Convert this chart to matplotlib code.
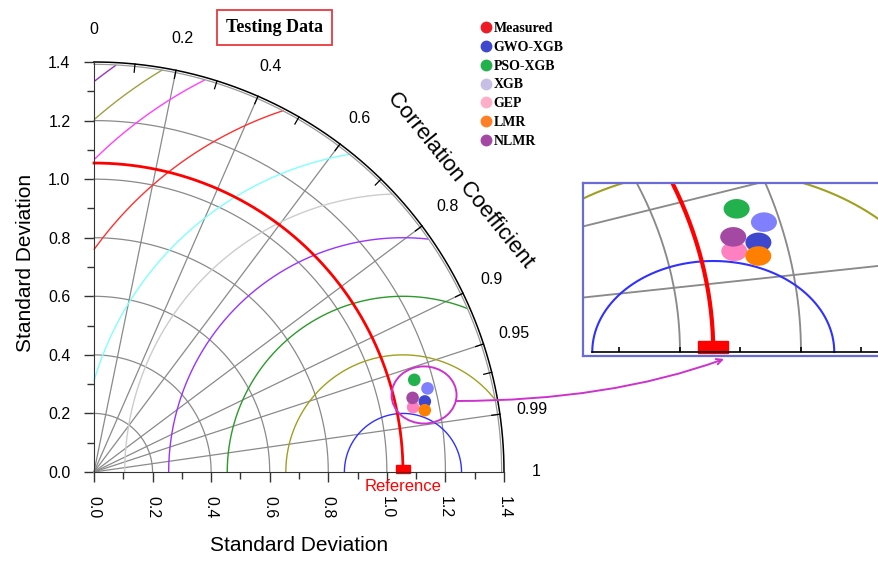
import numpy as np
import matplotlib
matplotlib.use("Agg")
import matplotlib.pyplot as plt
from matplotlib.patches import Ellipse, Rectangle
from matplotlib.lines import Line2D

plt.rcParams['font.family'] = ['Liberation Sans', 'DejaVu Sans']

# model statistics (testing data)
models = ['GWO-XGB', 'PSO-XGB', 'XGB', 'GEP', 'LMR', 'NLMR']
std_dev = [1.155, 1.138, 1.174, 1.112, 1.149, 1.117]
corr = [0.978, 0.961, 0.970, 0.980, 0.983, 0.974]
point_colors = ['#3f48cc', '#22b14c', '#8080ff', '#ff80c0', '#ff8000', '#a349a4']

legend_labels = ['Measured', 'GWO-XGB', 'PSO-XGB', 'XGB', 'GEP', 'LMR', 'NLMR']
legend_colors = ['#ed1c24', '#3f48cc', '#22b14c', '#c8bfe7', '#ffaec9', '#ff7f27', '#a349a4']

ref_std = 1.055

# centred RMS difference contours
rms_levels = [0.2, 0.4, 0.6, 0.8, 0.95, 1.1, 1.3, 1.5, 1.6, 1.7]
rms_colors = ['#3030ff', '#a0a020', '#2a9a2a', '#9933ff', '#cccccc',
              '#80ffff', '#ff3030', '#ff40ff', '#a0a040', '#9933bb']

std_arcs = [0.2, 0.4, 0.6, 0.8, 1.0, 1.2]
corr_lines = [0.2, 0.4, 0.6, 0.8, 0.9, 0.95, 0.99]
corr_ticks = [0.1, 0.2, 0.3, 0.4, 0.5, 0.6, 0.7, 0.8, 0.9, 0.95, 0.97, 0.99]
corr_labels = [0, 0.2, 0.4, 0.6, 0.8, 0.9, 0.95, 0.99, 1]

xs = np.array(std_dev) * np.array(corr)
ys = np.array(std_dev) * np.sin(np.arccos(corr))
t = np.linspace(0, np.pi / 2, 300)
R_MAX = 1.4


def rms_curve(r, limit=1.393):
    th = np.linspace(0, np.pi, 800)
    cx = ref_std + r * np.cos(th)
    cy = r * np.sin(th)
    bad = (cx < 0) | (cx ** 2 + cy ** 2 > limit ** 2)
    cx[bad] = np.nan
    cy[bad] = np.nan
    return cx, cy


def draw_base(a, lw_scale=1.0, ref_lw=2.0):
    for s in std_arcs:
        a.plot(s * np.cos(t), s * np.sin(t), color='#8a8a8a', lw=0.9 * lw_scale)
    for c in corr_lines:
        ang = np.arccos(c)
        a.plot([0, R_MAX * np.cos(ang)], [0, R_MAX * np.sin(ang)],
               color='#8a8a8a', lw=0.9 * lw_scale)
    for r, col in zip(rms_levels, rms_colors):
        cx, cy = rms_curve(r)
        a.plot(cx, cy, color=col, lw=1.0 * lw_scale)
    a.plot(ref_std * np.cos(t), ref_std * np.sin(t), color='red', lw=ref_lw)
    a.add_patch(Rectangle((ref_std - 0.025, -0.003), 0.05, 0.028,
                          color='red', clip_on=a.get_label() == 'inset'))
    for x, y, col in zip(xs, ys, point_colors):
        a.add_patch(Ellipse((x, y), 0.043, 0.043, color=col, ec='none', zorder=5))


fig = plt.figure(figsize=(8.79, 5.61), dpi=100)
ax = fig.add_axes([94 / 879, 89 / 561, 410 / 879, 410 / 561])
ax.set_xlim(0, 1.4)
ax.set_ylim(0, 1.4)
draw_base(ax)

# outer boundary
ax.plot(1.392 * np.cos(t), 1.392 * np.sin(t), color='#999999', lw=0.9, clip_on=False)
ax.plot(R_MAX * np.cos(t), R_MAX * np.sin(t), color='black', lw=1.1, clip_on=False)
for c in corr_ticks:
    ang = np.arccos(c)
    ax.plot([1.372 * np.cos(ang), R_MAX * np.cos(ang)],
            [1.372 * np.sin(ang), R_MAX * np.sin(ang)], color='black', lw=0.9, clip_on=False)
for c in corr_labels:
    ang = np.arccos(c)
    ax.text(1.51 * np.cos(ang), 1.51 * np.sin(ang), str(c), ha='center', va='center',
            fontsize=11.5)

for line in ax.lines:
    line.set_clip_on(False)

ax.spines['top'].set_visible(False)
ax.spines['right'].set_visible(False)
ax.spines['left'].set_color('#333333')
ax.spines['bottom'].set_color('#333333')
ticks = np.arange(0, 1.41, 0.2)
ax.set_xticks(ticks)
ax.set_yticks(ticks)
ax.set_xticklabels(['%.1f' % v for v in ticks], rotation=-90)
ax.set_yticklabels(['%.1f' % v for v in ticks])
ax.set_xticks(np.arange(0.1, 1.4, 0.2), minor=True)
ax.set_yticks(np.arange(0.1, 1.4, 0.2), minor=True)
ax.tick_params(which='major', length=7, width=1.0, color='#333333', labelsize=11.5)
ax.tick_params(axis='y', which='major', pad=10)
ax.tick_params(axis='x', which='major', pad=10)
ax.tick_params(which='minor', length=5, width=1.0, color='#333333')

ax.set_xlabel('Standard Deviation', fontsize=15)
ax.set_ylabel('Standard Deviation', fontsize=15)
ax.xaxis.set_label_coords(0.5, -0.155)
ax.yaxis.set_label_coords(-0.145, 0.51)

ax.text(ref_std, -0.05, 'Reference', color='red', ha='center', va='center', fontsize=12)

# highlight of the model cluster
ax.add_patch(Ellipse((1.127, 0.263), 0.222, 0.195, fill=False, ec='#cc33cc', lw=1.4,
                     zorder=6))

fig.text(460 / 879, 1 - 180 / 561, 'Correlation Coefficient', rotation=-51,
         ha='center', va='center', fontsize=16, rotation_mode='anchor')

# title box
fig.add_artist(Rectangle((217 / 879, 1 - 45 / 561), 115 / 879, 35 / 561, fill=False,
                         ec='#e8393f', lw=1.3, transform=fig.transFigure))
fig.text(275 / 879, 1 - 27 / 561, 'Testing Data', ha='center', va='center',
         fontsize=13, fontweight='bold', family='Liberation Serif')

handles = [Line2D([], [], marker='o', ls='none', ms=7.5, color=c) for c in legend_colors]
fig.legend(handles, legend_labels, loc='upper left', bbox_to_anchor=(483 / 879, 1 - 22 / 561),
           frameon=False, handlelength=0.5, handletextpad=0.25, labelspacing=0.42,
           borderpad=0, borderaxespad=0,
           prop={'family': 'Liberation Serif', 'weight': 'bold', 'size': 10})

# zoomed inset
axin = fig.add_axes([583 / 879, (561 - 356) / 561, 317 / 879, 173 / 561], label='inset')
axin.set_xlim(0.8397, 0.8397 + 317 / 605)
axin.set_ylim(-0.0088, -0.0088 + 173 / 455)
draw_base(axin, lw_scale=1.5, ref_lw=3)
axin.plot([0.855, 1.5], [0, 0], color='black', lw=1.2)
axin.vlines(np.arange(0.9, 1.35, 0.1), 0, 0.012, color='black', lw=1.2)
axin.set_xticks([])
axin.set_yticks([])
for sp in axin.spines.values():
    sp.set_color('#6b6bd6')
    sp.set_linewidth(1.6)

ax.annotate('', xy=(724 / 879, 1 - 359 / 561), xycoords='figure fraction',
            xytext=(456 / 879, 1 - 401 / 561), textcoords='figure fraction',
            arrowprops=dict(arrowstyle='->', color='#cc33cc', lw=1.4,
                            connectionstyle='angle3,angleA=0,angleB=20',
                            shrinkA=0, shrinkB=0))

fig.savefig('out.png', dpi=100)
